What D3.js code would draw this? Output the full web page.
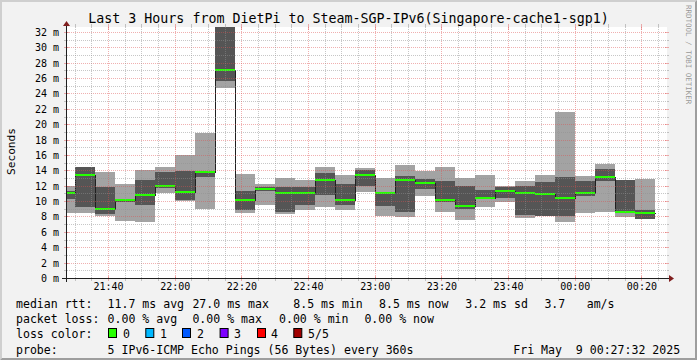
<!DOCTYPE html>
<html><head><meta charset="utf-8">
<script src="https://cdn.jsdelivr.net/npm/d3@7"></script>
<style>
html,body{margin:0;padding:0;background:#f2f2f2;}
svg{display:block;}
text{font-family:"DejaVu Sans Mono",monospace;white-space:pre;}
</style></head><body>
<svg id="c" width="697" height="360"></svg>
<script>
// ---- data ----
const title = "Last 3 Hours from DietPi to Steam-SGP-IPv6(Singapore-cache1-sgp1)";
const barStarts = ["21:24","21:30","21:36","21:42","21:48","21:54","22:00","22:06","22:12","22:18",
  "22:24","22:30","22:36","22:42","22:48","22:54","23:00","23:06","23:12","23:18",
  "23:24","23:30","23:36","23:42","23:48","23:54","00:00","00:06","00:12","00:18"];
const minRtt = [8.4,8.5,8.1,7.4,7.3,11.0,10.0,9.0,24.7,8.4,9.5,8.3,8.9,9.2,8.86,11.25,8.1,7.9,10.7,8.65,7.5,9.3,9.95,7.85,8.0,7.3,8.5,8.65,7.9,7.65];
const p2Rtt  = [10.3,9.2,8.3,9.9,9.5,11.7,10.1,13.2,25.6,8.9,11.3,8.65,9.5,10.85,9.45,12.0,9.4,8.6,11.55,9.9,9.0,10.25,10.4,8.2,8.1,8.1,10.7,12.6,8.5,7.7];
const medianRtt = [11.0,13.4,9.0,10.1,10.8,12.0,11.2,13.8,27.1,10.1,11.6,11.0,11.1,12.75,10.2,13.45,11.0,12.7,12.4,10.15,9.4,10.4,11.3,11.1,10.9,10.4,11.1,13.15,8.65,8.5];
const p4Rtt  = [11.3,14.4,11.8,10.2,12.8,13.8,13.9,13.9,33.5,11.3,11.9,11.8,11.8,13.7,12.2,14.1,11.2,13.3,12.9,12.6,12.0,11.45,11.8,12.0,12.5,13.1,12.6,14.2,12.7,8.85];
const maxRtt = [12.0,14.5,13.8,12.2,14.1,14.4,16.0,18.8,40.0,13.55,12.2,13.0,12.8,14.45,13.4,14.3,13.0,14.7,13.9,14.45,13.0,13.4,12.0,12.6,13.4,21.55,13.3,14.85,12.75,12.9];
const yTickValues = [0,2,4,6,8,10,12,14,16,18,20,22,24,26,28,30,32];
const lossLabels = ["0","1","2","3","4","5/5"];
const lossColors = ["#26ff00","#00b8ff","#0059ff","#7e00ff","#ff0000","#a10000"];
const legendRows = [
  [[16,"median rtt:"],[107.6,"11.7 ms avg"],[192.4,"27.0 ms max"],[293.3,"8.5 ms min"],[379,"8.5 ms now"],[465.3,"3.2 ms sd"],[544.4,"3.7"],[586.7,"am/s"]],
  [[16,"packet loss:"],[107.6,"0.00 % avg"],[192.4,"0.00 % max"],[279,"0.00 % min"],[364.4,"0.00 % now"]],
  [[16,"loss color:"]],
  [[16,"probe:"],[107.6,"5 IPv6-ICMP Echo Pings (56 Bytes) every 360s"],[513.3,"Fri May  9 00:27:32 2025"]]
];
const swatchX = [108,145.3,182,219.6,257,293.3];
const swatchLabelX = [123,160,197,234,271,308];
const tStart = new Date(2025,4,8,21,27,32), tEnd = new Date(2025,4,9,0,27,32);
const stepMin = 6;

// ---- setup ----
const W=697,H=360;
const svg = d3.select("#c");
const parseT = s => { const [h,m]=s.split(":").map(Number); return new Date(2025,4,h>=12?8:9,h,m); };
const bars = barStarts.map((s,i)=>{ const t=parseT(s); return {t0: t<tStart?tStart:t, t1: new Date(t.getTime()+stepMin*60000),
  mn:minRtt[i], p2:p2Rtt[i], md:medianRtt[i], p4:p4Rtt[i], mx:maxRtt[i]}; });

const x = d3.scaleTime().domain([tStart,tEnd]).range([66.5,666.5]);
const y = d3.scaleLinear().domain([0,32.65]).range([278,27]);

// background + 3D frame
svg.append("rect").attr("width",W).attr("height",H).attr("fill","#f2f2f2");
svg.append("polygon").attr("points",`0,${H} 2,${H-2} 2,2 ${W-2},2 ${W},0 0,0`).attr("fill","#cfcfcf");
svg.append("polygon").attr("points",`2,${H-2} ${W-2},${H-2} ${W-2},2 ${W},0 ${W},${H} 0,${H}`).attr("fill","#9e9e9e");

// canvas
svg.append("rect").attr("x",67).attr("y",27).attr("width",600).attr("height",251).attr("fill","#fff");
svg.append("clipPath").attr("id","pc").append("rect").attr("x",66).attr("y",27).attr("width",601).attr("height",251);
const plot = svg.append("g").attr("clip-path","url(#pc)");

const px = v => Math.round(x(v));
const py = v => Math.round(y(v));
// smoke
plot.selectAll("rect.lt").data(bars).join("rect").attr("class","lt")
  .attr("x",d=>px(d.t0)).attr("width",d=>px(d.t1)-px(d.t0))
  .attr("y",d=>py(d.mx)).attr("height",d=>py(d.mn)-py(d.mx))
  .attr("fill","#a3a3a3").attr("shape-rendering","crispEdges");
plot.selectAll("rect.dk").data(bars).join("rect").attr("class","dk")
  .attr("x",d=>px(d.t0)).attr("width",d=>px(d.t1)-px(d.t0))
  .attr("y",d=>py(d.p4)).attr("height",d=>py(d.p2)-py(d.p4))
  .attr("fill","#555555").attr("shape-rendering","crispEdges");
// median step line
const pts = bars.map(d=>[px(d.t0), py(d.md)+0.5]);
pts.push([px(bars[bars.length-1].t1), py(bars[bars.length-1].md)+0.5]);
plot.append("path").attr("d", d3.line().curve(d3.curveStepAfter)(pts.map(p=>[p[0]+0.5,p[1]])))
  .attr("fill","none").attr("stroke","#202020").attr("stroke-width",1).attr("shape-rendering","crispEdges");
// loss colour band
plot.selectAll("rect.md").data(bars).join("rect").attr("class","md")
  .attr("x",d=>px(d.t0)).attr("width",d=>px(d.t1)-px(d.t0))
  .attr("y",d=>py(d.md)-1).attr("height",2)
  .attr("fill",lossColors[0]).attr("shape-rendering","crispEdges");

// grid
const gGrid = svg.append("g").attr("shape-rendering","crispEdges");
const minorCol="rgba(143,143,143,0.5)", majorCol="rgba(222,79,79,0.45)";
const hvals = d3.range(1,33);
hvals.forEach(v=>{
  const yy = Math.round(y(v))+0.5, maj = v%2===0, c = maj?majorCol:minorCol;
  gGrid.append("line").attr("x1",67).attr("x2",667).attr("y1",yy).attr("y2",yy).attr("stroke",c).attr("stroke-dasharray","1,1");
  gGrid.append("line").attr("x1",64).attr("x2",maj?69:67).attr("y1",yy).attr("y2",yy).attr("stroke",c);
  gGrid.append("line").attr("x1",maj?665:667).attr("x2",669).attr("y1",yy).attr("y2",yy).attr("stroke",c);
});
x.ticks(d3.timeMinute.every(5)).forEach(t=>{
  const xx = Math.round(x(t))+0.5, maj = t.getMinutes()%20===0, c = maj?majorCol:minorCol;
  gGrid.append("line").attr("x1",xx).attr("x2",xx).attr("y1",27).attr("y2",278).attr("stroke",c).attr("stroke-dasharray","1,1");
  gGrid.append("line").attr("x1",xx).attr("x2",xx).attr("y1",maj?276:278).attr("y2",281).attr("stroke",c);
  gGrid.append("line").attr("x1",xx).attr("x2",xx).attr("y1",24).attr("y2",maj?30:27).attr("stroke",c);
});

// axes lines + arrows
const ax = svg.append("g").attr("shape-rendering","crispEdges");
ax.append("line").attr("x1",62).attr("x2",670).attr("y1",278.5).attr("y2",278.5).attr("stroke","#1f1f1f");
ax.append("line").attr("x1",66.5).attr("x2",66.5).attr("y1",282).attr("y2",24).attr("stroke","#1f1f1f");
svg.append("polygon").attr("points","669,275 669,282 674,278.5").attr("fill","#801f1f");
svg.append("polygon").attr("points","63,26 70,26 66.5,21").attr("fill","#801f1f");

// axis labels via d3 axes
const yAxis = d3.axisLeft(y).tickValues(yTickValues).tickFormat(d=>d+" m").tickSize(0).tickPadding(7.5);
const gy = svg.append("g").attr("transform","translate(66.5,0)").call(yAxis);
gy.select(".domain").remove();
gy.attr("font-family","DejaVu Sans Mono").attr("font-size",10);
gy.selectAll("text").attr("fill","#000").attr("dy","0.34em");

const xAxis = d3.axisBottom(x).ticks(d3.timeMinute.every(20)).tickFormat(d3.timeFormat("%H:%M")).tickSize(0).tickPadding(5);
const gx = svg.append("g").attr("transform","translate(0,278)").call(xAxis);
gx.select(".domain").remove();
gx.attr("font-family","DejaVu Sans Mono").attr("font-size",10);
gx.selectAll("text").attr("fill","#000");

// title
svg.append("text").attr("x",348.5).attr("y",23).attr("text-anchor","middle").attr("font-size",13.3).text(title);
// y title
svg.append("text").attr("transform","translate(15,151.5) rotate(-90)").attr("text-anchor","middle").attr("font-size",11.2).text("Seconds");
// watermark
svg.append("text").attr("transform","translate(685.5,5) rotate(90)").attr("font-size",7.5).attr("fill","rgba(0,0,0,0.4)").text("RRDTOOL / TOBI OETIKER");

// legend
const baselines = [307.5,322.5,338,353.5];
legendRows.forEach((row,i)=>{
  row.forEach(([xx,s])=>svg.append("text").attr("x",xx).attr("y",baselines[i]).attr("font-size",11.56).attr("xml:space","preserve").text(s));
});
lossColors.forEach((c,i)=>{
  svg.append("rect").attr("x",swatchX[i]+0.5).attr("y",baselines[2]-9.5).attr("width",8).attr("height",9)
    .attr("fill",c).attr("stroke","#000").attr("stroke-width",1);
  svg.append("text").attr("x",swatchLabelX[i]).attr("y",baselines[2]).attr("font-size",11.56).text(lossLabels[i]);
});
</script></body></html>
